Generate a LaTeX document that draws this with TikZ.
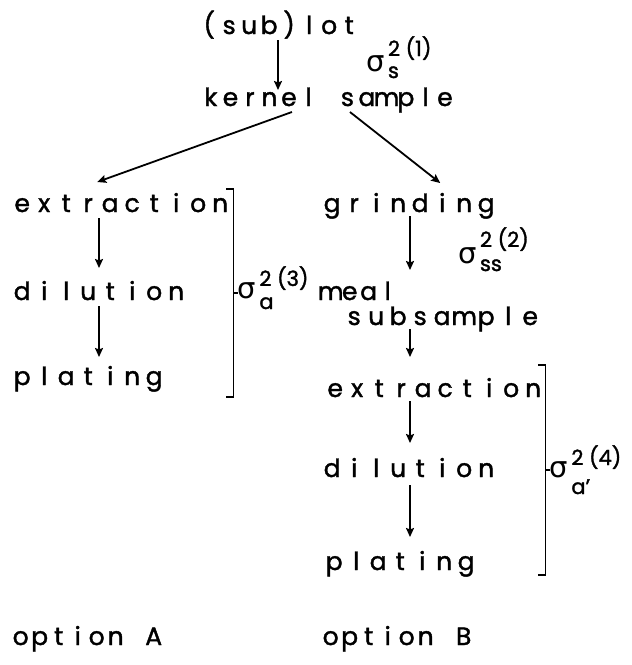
\documentclass[tikz,border=0pt]{standalone}
\usepackage{fontspec}
\setmainfont{Poppins}[FakeBold=1.5]
\newfontfamily\greekfont{DejaVu Sans}
\usetikzlibrary{arrows.meta,calc}
% set a word on a fixed pitch: every character gets a cell of equal width
\ExplSyntaxOn
\NewDocumentCommand\ms{O{22pt}m}{\tl_map_inline:nn{#2}{\makebox[#1][c]{##1}}}
\ExplSyntaxOff
\begin{document}
\begin{tikzpicture}[x=1pt,y=-1pt,
  lbl/.style={anchor=base west, inner sep=0pt, font=\fontsize{25}{30}\selectfont},
  arr/.style={line width=1.8pt, -{Stealth[length=9pt,width=8pt,inset=1.5pt]}},
  brk/.style={line width=1.8pt},
  sig/.style={anchor=base west, inner sep=0pt, font=\greekfont\fontsize{29}{31}\selectfont},
  idx/.style={anchor=base west, inner sep=0pt, font=\fontsize{21}{23}\selectfont}]
\useasboundingbox (0,0) rectangle (632,665);

% stage labels
\node[lbl] (lot)  at (199,34)  {\ms[20pt]{(sub)lot}};
\node[lbl] (kern) at (201,106) {\ms[19.5pt]{kernel~sample}};
\node[lbl] (extA) at (11,212)  {\ms{extraction}};
\node[lbl] (dilA) at (11,300)  {\ms{dilution}};
\node[lbl] (plaA) at (11,385)  {\ms{plating}};
\node[lbl] (grin) at (321,212) {\ms{grinding}};
\node[lbl] (meal) at (321,300) {\ms[19pt]{meal}};
\node[lbl] (subs) at (343,325) {\ms{subsample}};
\node[lbl] (extB) at (324,397) {\ms{extraction}};
\node[lbl] (dilB) at (321,477) {\ms{dilution}};
\node[lbl] (plaB) at (323,570) {\ms{plating}};
\node[lbl] (optA) at (11,645)  {\ms[19pt]{option~A}};
\node[lbl] (optB) at (321,645) {\ms[19pt]{option~B}};

% arrow columns
\coordinate (cT) at (278,0);
\coordinate (cA) at (99,0);
\coordinate (cB) at (410,0);

\draw[arr] ($(lot.base -| cT)+(0,6)$) -- ($(kern.base -| cT)+(0,-16)$);
\draw[arr] ($(kern.base)+(-36,6)$) -- ($(extA.base)+(-24,-30)$);
\draw[arr] ($(kern.base)+(22,6)$) -- ($(grin.base)+(31,-29)$);

\draw[arr] ($(extA.base -| cA)+(0,6)$) -- ($(dilA.base -| cA)+(0,-32)$);
\draw[arr] ($(dilA.base -| cA)+(0,6)$) -- ($(plaA.base -| cA)+(0,-28)$);

\draw[arr] ($(grin.base -| cB)+(0,4)$) -- ($(meal.base -| cB)+(0,-30)$);
\draw[arr] ($(subs.base -| cB)+(0,4)$) -- ($(extB.base -| cB)+(0,-40)$);
\draw[arr] ($(extB.base -| cB)+(0,4)$) -- ($(dilB.base -| cB)+(0,-34)$);
\draw[arr] ($(dilB.base -| cB)+(0,8)$) -- ($(plaB.base -| cB)+(0,-33)$);

% variance of the (sub)lot sampling step
\node[sig] (sS) at (366,71) {σ};
\node[idx] (sSu) at ($(sS.base east)+(3,-15)$) {2 (1)};
\node[idx] (sSl) at ($(sS.base east)+(3,7)$) {s};

% variance of the subsampling step
\node[sig] (sSS) at (458,263) {σ};
\node[idx] (sSSu) at ($(sSS.base east)+(3,-16)$) {2 (2)};
\node[idx] (sSSl) at ($(sSS.base east)+(3,8)$) {ss};

% bracket over the analysis steps, option A
\coordinate (bAt) at ($(extA.base east)+(2,-23)$);
\coordinate (bAb) at ($(plaA.base -| bAt)+(0,12)$);
\coordinate (bAm) at ($(bAt)!0.5!(bAb)$);
\draw[brk] ($(bAt)+(-7,0)$) -- (bAt) -- (bAb) -- ++(-7,0);
\draw[brk] (bAm) -- ++(5,0);
\node[sig] (sA) at ($(bAm)+(4,5)$) {σ};
\node[idx] (sAu) at ($(sA.base east)+(3,-12)$) {2 (3)};
\node[idx] (sAl) at ($(sA.base east)+(3,11)$) {a};

% bracket over the analysis steps, option B
\coordinate (bBt) at ($(extB.base east)+(1,-32)$);
\coordinate (bBb) at ($(plaB.base -| bBt)+(0,5)$);
\coordinate (bBm) at ($(bBt)!0.5!(bBb)$);
\draw[brk] ($(bBt)+(-7,0)$) -- (bBt) -- (bBb) -- ++(-7,0);
\draw[brk] (bBm) -- ++(5,0);
\node[sig] (sB) at ($(bBm)+(4,7)$) {σ};
\node[idx] (sBu) at ($(sB.base east)+(3,-12)$) {2 (4)};
\node[idx] (sBl) at ($(sB.base east)+(3,17)$) {a'};
\end{tikzpicture}
\end{document}
